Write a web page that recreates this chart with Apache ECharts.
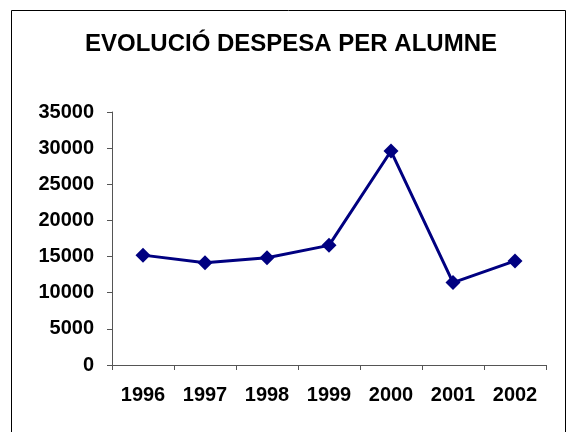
<!DOCTYPE html>
<html>
  <head>
    <meta charset="UTF-8" />
    <title>Evolució despesa per alumne</title>
    <script src="https://cdn.jsdelivr.net/npm/echarts@6/dist/echarts.min.js"></script>
    <style>
      html, body { margin: 0; padding: 0; background: #fff; }
    </style>
  </head>
  <body>
    <div id="chart" style="width: 567px; height: 432px"></div>
    <script>
      var years = ["1996", "1997", "1998", "1999", "2000", "2001", "2002"];
      var despesa = [15200, 14150, 14850, 16550, 29600, 11400, 14400];
      var yMin = 0;
      var yMax = 35000;
      var yStep = 5000;

      var font = "'Liberation Sans', Arial, sans-serif";
      var axisColor = "#555";

      var myChart = echarts.init(document.getElementById("chart"));
      var option = {
        backgroundColor: "#fff",
        animation: false,
        title: {
          text: "EVOLUCIÓ DESPESA PER ALUMNE",
          left: 286,
          textAlign: "center",
          top: 27,
          textStyle: {
            fontFamily: font,
            fontWeight: "bold",
            fontSize: 24,
            color: "#000",
          },
        },
        // marc exterior del gràfic
        graphic: [
          {
            type: "rect",
            shape: { x: 11.5, y: 10.5, width: 554, height: 500 },
            style: { fill: null, stroke: "#000", lineWidth: 1 },
            silent: true,
          },
        ],
        grid: { left: 112, top: 112, right: 21, bottom: 67 },
        xAxis: {
          type: "category",
          data: years,
          boundaryGap: true,
          axisLine: { lineStyle: { color: axisColor, width: 1 } },
          axisTick: { show: true, length: 5, lineStyle: { color: axisColor } },
          axisLabel: {
            margin: 20,
            fontFamily: font,
            fontWeight: "bold",
            fontSize: 20,
            color: "#000",
          },
          splitLine: { show: false },
        },
        yAxis: {
          type: "value",
          min: yMin,
          max: yMax,
          interval: yStep,
          axisLine: { show: true, lineStyle: { color: axisColor, width: 1 } },
          axisTick: { show: true, length: 5, lineStyle: { color: axisColor } },
          axisLabel: {
            margin: 18,
            fontFamily: font,
            fontWeight: "bold",
            fontSize: 20,
            color: "#000",
            formatter: function (v) {
              return String(v);
            },
          },
          splitLine: { show: false },
        },
        series: [
          {
            type: "line",
            data: despesa,
            symbol: "diamond",
            symbolSize: 15,
            lineStyle: { color: "#000080", width: 3 },
            itemStyle: { color: "#000080" },
          },
        ],
      };
      myChart.setOption(option);
    </script>
  </body>
</html>
